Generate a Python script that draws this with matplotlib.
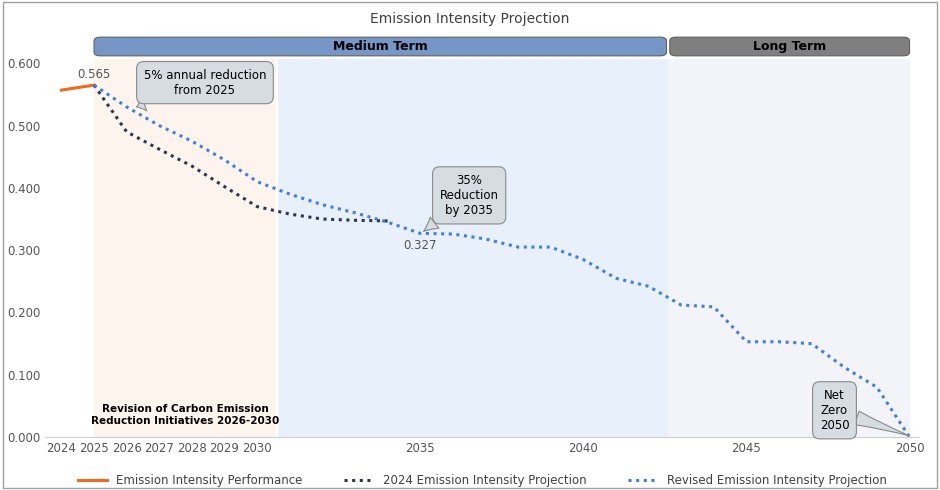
import matplotlib.pyplot as plt
from matplotlib.patches import FancyBboxPatch, Rectangle

perf_years = [2024, 2025]
perf_vals = [0.557, 0.565]
old_years = [2025, 2026, 2027, 2028, 2029, 2030, 2031, 2032, 2033, 2034]
old_vals = [0.565, 0.490, 0.462, 0.435, 0.402, 0.370, 0.358, 0.350, 0.348, 0.347]
new_years = list(range(2025, 2051))
new_vals = [0.565, 0.530, 0.500, 0.475, 0.445, 0.410, 0.390, 0.373, 0.360, 0.345,
            0.327, 0.326, 0.318, 0.305, 0.305, 0.285, 0.255, 0.242, 0.212, 0.209,
            0.153, 0.153, 0.150, 0.112, 0.080, 0.000]
tick_years = [2024, 2025, 2026, 2027, 2028, 2029, 2030, 2035, 2040, 2045, 2050]

fig = plt.figure(figsize=(9.4, 4.9), dpi=100)
ax = fig.add_axes([0.048, 0.108, 0.93, 0.82])
fig.patches.append(Rectangle((0.003, 0.005), 0.994, 0.99, transform=fig.transFigure,
                             fill=False, edgecolor='#a0a0a0', lw=1))

ax.set_xlim(2023.5, 2050.3)
ax.set_ylim(0, 0.645)

# background phases
ax.axvspan(2025, 2030.6, ymax=0.6 / 0.645 + 0.01, color='#fdf4ee', lw=0)
ax.axvspan(2030.6, 2042.6, ymax=0.6 / 0.645 + 0.01, color='#e8f0fc', lw=0)
ax.axvspan(2042.6, 2050, ymax=0.6 / 0.645 + 0.01, color='#f2f4f9', lw=0)
ax.axvline(2030.6, ymax=0.94, color='white', lw=1.5)

# header bars
for x0, x1, col, txt in [(2025, 2042.55, '#7696c6', 'Medium Term'),
                         (2042.65, 2050, '#7f7f7f', 'Long Term')]:
    ax.add_patch(FancyBboxPatch((x0, 0.612), x1 - x0, 0.03,
                                boxstyle='round,pad=0,rounding_size=0.2',
                                mutation_aspect=0.03, facecolor=col, edgecolor='#606060', lw=0.8,
                                clip_on=False))
    ax.text((x0 + x1) / 2, 0.627, txt, ha='center', va='center', fontsize=9,
            fontweight='bold', color='black')

ax.plot(perf_years, perf_vals, color='#f26a1b', lw=2.2, label='Emission Intensity Performance')
ax.plot(old_years, old_vals, color='#2b3650', lw=2.2, ls=(0, (1, 1.5)),
        label='2024 Emission Intensity Projection')
ax.plot(new_years, new_vals, color='#3f7ee8', lw=2.2, ls=(0, (1, 1.5)),
        label='Revised Emission Intensity Projection')

ax.text(2025, 0.572, '0.565', ha='center', va='bottom', fontsize=8.5, color='#555555')
ax.text(2035, 0.318, '0.327', ha='center', va='top', fontsize=8.5, color='#555555')

box = dict(boxstyle='round,pad=0.6', facecolor='#d5dde3', edgecolor='#8a8a8a', lw=0.8)
arr = dict(arrowstyle='wedge,tail_width=1.2,shrink_factor=0.4', facecolor='#d5dde3',
           edgecolor='#8a8a8a', lw=0.8, shrinkA=0, shrinkB=0)
ax.annotate('5% annual reduction\nfrom 2025', xy=(2026.3, 0.530), xytext=(2028.4, 0.569),
            ha='center', va='center', fontsize=8.5, bbox=box, arrowprops=arr)
ax.annotate('35%\nReduction\nby 2035', xy=(2035.1, 0.330), xytext=(2036.5, 0.388),
            ha='center', va='center', fontsize=8.5, bbox=box, arrowprops=arr)
ax.annotate('Net\nZero\n2050', xy=(2050, 0.002), xytext=(2047.7, 0.043),
            ha='center', va='center', fontsize=8.5, bbox=box, arrowprops=arr)

ax.text(2027.8, 0.035, 'Revision of Carbon Emission\nReduction Initiatives 2026-2030',
        ha='center', va='center', fontsize=7.5, fontweight='bold')

ax.set_yticks([0, 0.1, 0.2, 0.3, 0.4, 0.5, 0.6])
ax.set_yticklabels([f'{v:.3f}' for v in [0, 0.1, 0.2, 0.3, 0.4, 0.5, 0.6]])
ax.set_xticks(tick_years)
ax.tick_params(length=0, labelsize=8.5, colors='#555555')
for s in ['top', 'right', 'left']:
    ax.spines[s].set_visible(False)
ax.spines['bottom'].set_color('#d0d0d0')

fig.text(0.5, 0.962, 'Emission Intensity Projection', ha='center', va='center',
         fontsize=10, color='#404040')
ax.legend(loc='upper center', bbox_to_anchor=(0.5, -0.065), ncol=3, frameon=False,
          fontsize=8.5, handlelength=2.5, columnspacing=3.5, labelcolor='#404040')

fig.savefig('out.png', dpi=100)
